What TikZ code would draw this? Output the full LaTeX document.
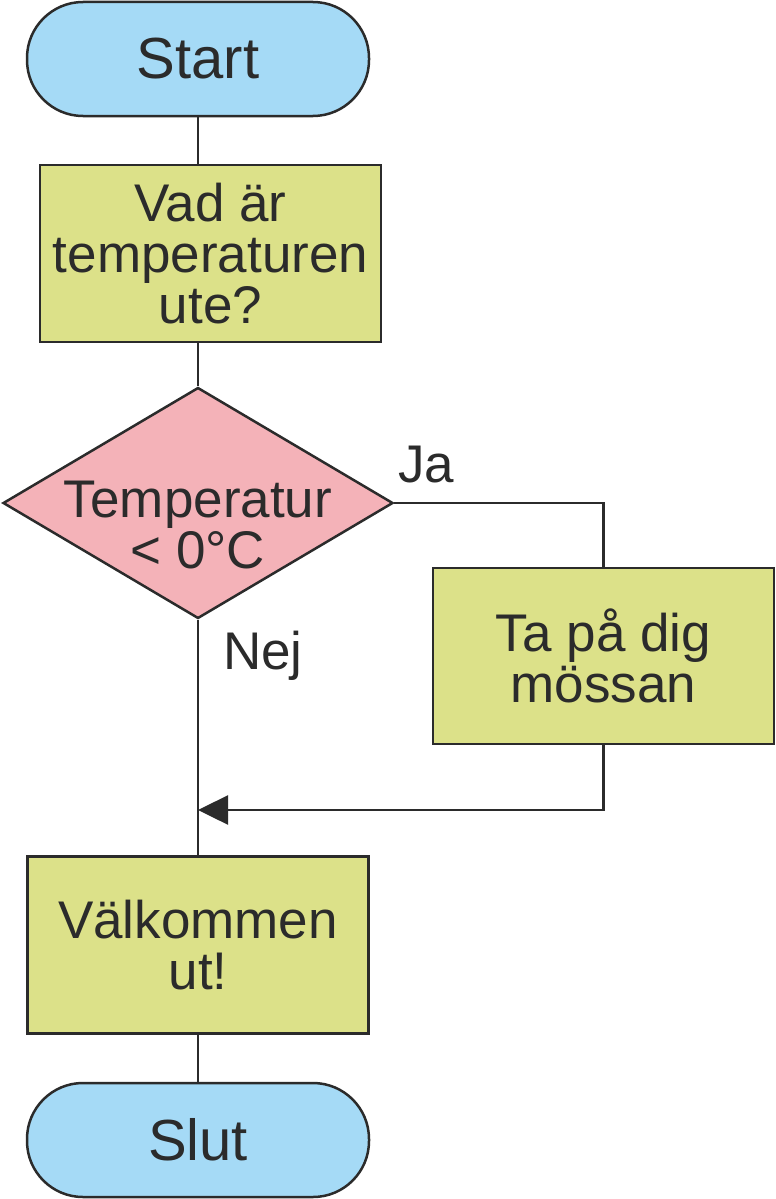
\documentclass[tikz,border=0pt]{standalone}
\usepackage{fontspec}
\setmainfont{Liberation Sans}
\usetikzlibrary{shapes.geometric,arrows.meta}
\definecolor{termblue}{HTML}{A5DAF6}
\definecolor{boxgreen}{HTML}{DCE189}
\definecolor{decpink}{HTML}{F4B2B8}
\definecolor{ink}{HTML}{2B2B2B}
\begin{document}
\begin{tikzpicture}[x=1pt,y=-1pt,line width=2.5pt,draw=ink,text=ink,
  every node/.style={align=center,inner sep=0pt,font=\fontsize{53}{51}\selectfont},
  term/.style={draw,fill=termblue,rounded corners=56pt,minimum width=342pt,minimum height=114pt,font=\fontsize{58}{58}\selectfont},
  process/.style={draw,fill=boxgreen,minimum width=341pt,minimum height=177pt},
  decision/.style={draw,fill=decpink,diamond,minimum width=390pt,minimum height=231pt}]
  \useasboundingbox (0,0) rectangle (776,1199);
  \node[term] (start) at (198,59) {Start};
  \node[process] (ask) at (210.5,253.5) {Vad är\\temperaturen\\ute?};
  \node[decision,label={[align=center,yshift=-22pt]center:Temperatur\\< 0°C}] (dec) at (198,503) {};
  \node[process,minimum height=176pt] (cap) at (603.5,656) {Ta på dig\\mössan};
  \node[process] (welcome) at (198,945) {Välkommen\\ut!};
  \node[term] (slut) at (198,1140) {Slut};
  \node[anchor=base] (ja) at (426,482) {Ja};
  \node[anchor=base] (nej) at (263,669) {Nej};
  \coordinate (join) at (198,810);
  \draw (start.south) -- (start.south |- ask.north);
  \draw (dec.north |- ask.south) -- (dec.north);
  \draw (dec.east) -| (cap.north);
  \draw[-{Triangle[length=30pt,width=29pt]}] (cap.south) |- (join);
  \draw (dec.south) -- (welcome.north);
  \draw (welcome.south) -- (slut.north);
\end{tikzpicture}
\end{document}
